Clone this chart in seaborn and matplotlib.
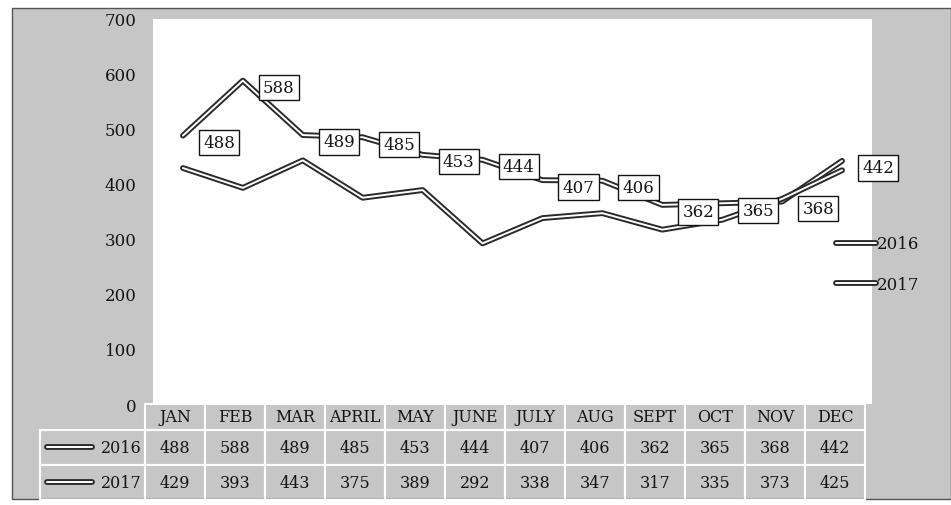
import pandas as pd
import matplotlib.pyplot as plt
import matplotlib.patheffects as pe
from matplotlib.patches import Rectangle
import seaborn as sns

# %% data read off the chart / table
months = ['JAN', 'FEB', 'MAR', 'APRIL', 'MAY', 'JUNE', 'JULY', 'AUG', 'SEPT', 'OCT', 'NOV', 'DEC']
vals_2016 = [488, 588, 489, 485, 453, 444, 407, 406, 362, 365, 368, 442]
vals_2017 = [429, 393, 443, 375, 389, 292, 338, 347, 317, 335, 373, 425]
years = ['2016', '2017']
yticks = [0, 100, 200, 300, 400, 500, 600, 700]

df = pd.concat([pd.DataFrame({'month': months, 'value': vals_2016, 'year': '2016'}),
                pd.DataFrame({'month': months, 'value': vals_2017, 'year': '2017'})])

sns.set_style('white')
plt.rcParams['font.family'] = ['DejaVu Serif']
gray = '#c6c6c6'
ink = '#141414'

fig = plt.figure(figsize=(9.51, 5.06), dpi=100, facecolor='white')
# scanned grey frame
fig.patches.append(Rectangle((12/951, 1-500/506), 939/951, 491/506, transform=fig.transFigure,
                             facecolor=gray, edgecolor='#555555', lw=1.0, zorder=-1))

AX_W, AX_H = 719, 385   # axes size in px, used to size the table cells
ax = fig.add_axes([153/951, 1-405/506, AX_W/951, AX_H/506])
ax.set_facecolor('white')

sns.lineplot(data=df, x='month', y='value', hue='year', sort=False, ax=ax,
             palette={'2016': 'white', '2017': 'white'}, linewidth=1.4, legend=False)
# double-line look: dark wide stroke with a thin white core
double = [pe.Stroke(linewidth=4.2, foreground='#2a2a2a'), pe.Normal()]
for ln, yr in zip(ax.lines, years):
    ln.set_path_effects(double)
    ln.set_label(yr)

# value boxes for 2016
for i, v in enumerate(vals_2016):
    ax.annotate(str(v), xy=(i, v), xytext=(26, -5), textcoords='offset points',
                ha='center', va='center', fontsize=12, color=ink,
                bbox=dict(boxstyle='square,pad=0.25', fc='white', ec=ink, lw=1.0))

ax.set_xlim(-0.5, 11.5)
ax.set_ylim(0, 700)
ax.set_yticks(yticks)
ax.set_yticklabels([str(t) for t in yticks], fontsize=12, color=ink)
ax.set_xticks([])
ax.set_xlabel(None)
ax.set_ylabel(None)
ax.tick_params(axis='y', length=0, pad=12)
sns.despine(ax=ax, left=True, bottom=True)

leg = ax.legend(handles=ax.lines, loc='upper left', bbox_to_anchor=(0.94, 0.455),
                frameon=False, fontsize=12, handlelength=2.4, handletextpad=0.1,
                labelspacing=1.4, borderaxespad=0)
for t in leg.get_texts():
    t.set_color(ink)

# data table under the plot (bbox covers the month columns, row labels sit to the left)
tab = ax.table(cellText=[[str(v) for v in vals_2016], [str(v) for v in vals_2017]],
               rowLabels=years, colLabels=months, cellLoc='center', rowLoc='right',
               bbox=[(145-153)/AX_W, -96/AX_H, 720/AX_W, 96/AX_H])
tab.auto_set_font_size(False)
tab.set_fontsize(11.5)
tab._autoColumns = []   # keep the fixed width of the row label column
for (r, c), cell in tab.get_celld().items():
    cell.set_facecolor('none')
    cell.set_edgecolor('white')
    cell.set_linewidth(1.5)
    cell.get_text().set_color(ink)
    cell.set_height((26 if r == 0 else 35) / AX_H)
    cell.set_width((105 if c == -1 else 60) / AX_W)
    if c == -1:
        cell.PAD = 0.03

# legend keys in the row label cells
for yr, yy in zip(years, [(405-448)/AX_H, (405-483)/AX_H]):
    ax.plot([(47-153)/AX_W, (92-153)/AX_W], [yy, yy], transform=ax.transAxes, clip_on=False,
            color='white', lw=1.4, path_effects=double)

fig.savefig('out.png', dpi=100, facecolor=fig.get_facecolor())
